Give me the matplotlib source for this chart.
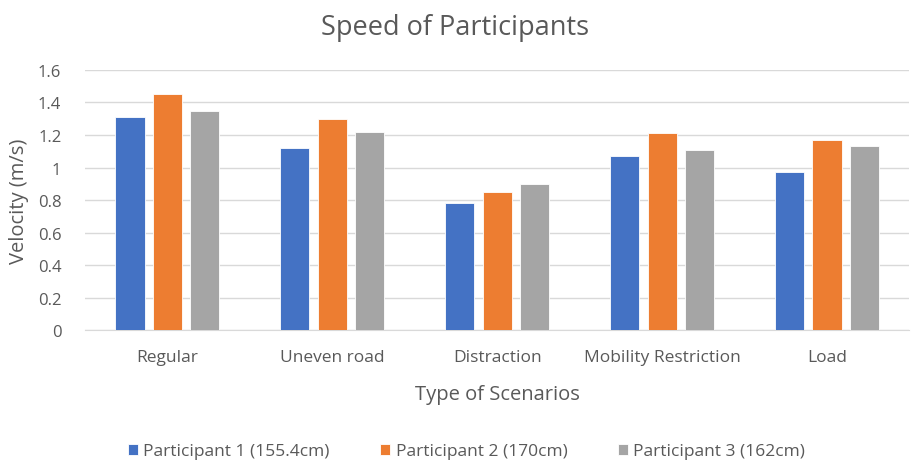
import numpy as np
import matplotlib.pyplot as plt

plt.rcParams['font.family'] = ['Open Sans', 'DejaVu Sans']

scenarios = ['Regular', 'Uneven road', 'Distraction', 'Mobility Restriction', 'Load']
p1 = [1.31, 1.12, 0.78, 1.07, 0.97]
p2 = [1.45, 1.30, 0.85, 1.21, 1.17]
p3 = [1.35, 1.22, 0.90, 1.11, 1.13]
series_names = ['Participant 1 (155.4cm)', 'Participant 2 (170cm)', 'Participant 3 (162cm)']
colors = ['#4472C4', '#ED7D31', '#A5A5A5']
yticks = [0, 0.2, 0.4, 0.6, 0.8, 1, 1.2, 1.4, 1.6]

fig = plt.figure(figsize=(9.11, 4.64), dpi=100)
ax = fig.add_axes([0.0933, 0.2866, 0.905, 0.5604])

x = np.arange(len(scenarios))
pitch = 0.227
width = 0.177
for i, (vals, name, c) in enumerate(zip([p1, p2, p3], series_names, colors)):
    ax.bar(x + (i - 1) * pitch, vals, width, color=c, label=name,
           edgecolor='white', linewidth=0.6, zorder=3)

ax.set_xlim(-0.5, len(scenarios) - 0.5)
ax.set_ylim(0, 1.6)
ax.set_yticks(yticks)
ax.set_yticklabels([f'{t:g}' for t in yticks])
ax.set_xticks(x)
ax.set_xticklabels(scenarios)
ax.grid(axis='y', color='#d9d9d9', linewidth=1, zorder=0)
for s in ['top', 'right', 'left']:
    ax.spines[s].set_visible(False)
ax.spines['bottom'].set_color('#d9d9d9')
ax.tick_params(axis='both', length=0, colors='#595959')
ax.tick_params(axis='x', pad=14, labelsize=12.5)
ax.tick_params(axis='y', pad=17, labelsize=12)

ax.set_ylabel('Velocity (m/s)', fontsize=14.5, color='#595959')
ax.yaxis.set_label_coords(-0.068, 0.5)
ax.set_xlabel('Type of Scenarios', fontsize=14.5, color='#595959', labelpad=13)
fig.text(0.5, 0.94, 'Speed of Participants', ha='center', va='center',
         fontsize=19.5, color='#595959')

fig.legend(loc='center', bbox_to_anchor=(0.512, 0.025), ncol=3, frameon=False,
           fontsize=12.5, handlelength=0.6, handleheight=0.6, handletextpad=0.3,
           columnspacing=2.9, labelcolor='#595959')

fig.savefig('out.png', dpi=100)
